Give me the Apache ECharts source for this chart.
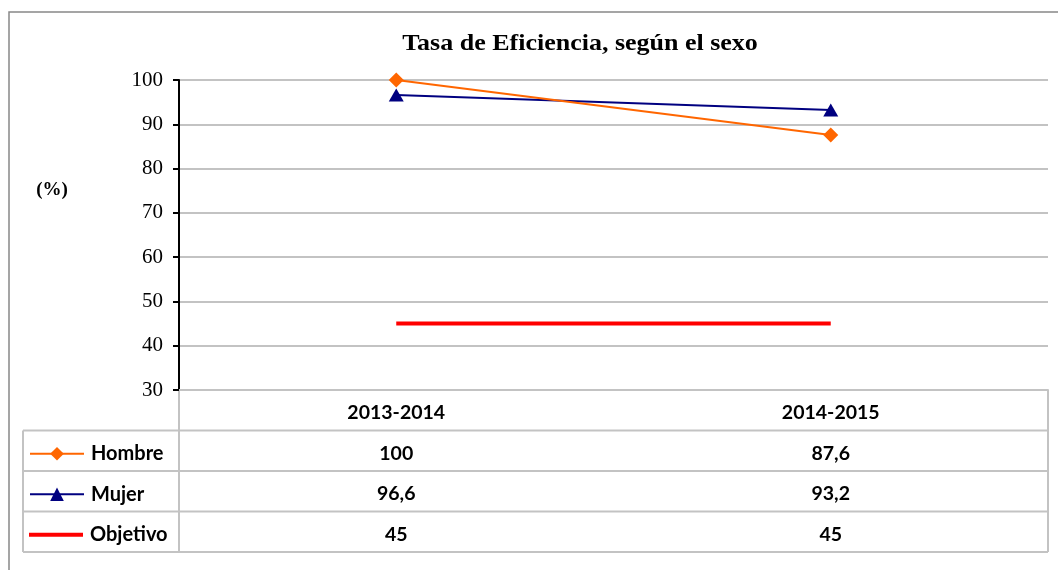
<!DOCTYPE html>
<html>
<head>
<meta charset="utf-8">
<script src="https://cdn.jsdelivr.net/npm/echarts@6/dist/echarts.min.js"></script>
<style>
  html, body { margin: 0; padding: 0; background: #ffffff; }
  #chart { width: 1058px; height: 570px; }
</style>
</head>
<body>
<div id="chart"></div>
<script>
// School years shown on the category axis
const periods = ['2013-2014', '2014-2015'];
// Efficiency rate (%) by sex, and the target
const hombre = [100, 87.6];
const mujer = [96.6, 93.2];
const objetivo = [45, 45];
// Value axis ticks
const yMin = 30, yMax = 100, yStep = 10;

const fmt = v => String(v).replace('.', ',');
const tableFont = 'Lato';
const rowH = 40.5;

const chart = echarts.init(document.getElementById('chart'), null, { renderer: 'canvas' });

// Data table under the axis: one column per period, values from the series arrays
function columnText(value, idx) {
  return '{h|' + value + '}\n{v|' + fmt(hombre[idx]) + '}\n{v|' + fmt(mujer[idx]) + '}\n{v|' + fmt(objetivo[idx]) + '}';
}

const gridLeft = 179, gridRight = 1048, gridTop = 80, gridBottom = 390;
const tableBottom = gridBottom + rowH * 4;
const gray = '#c3c3c3';

function hLine(y, x1, x2) {
  return { type: 'line', silent: true, shape: { x1: x1, y1: y, x2: x2, y2: y }, style: { stroke: gray, lineWidth: 2 } };
}
function vLine(x, y1, y2) {
  return { type: 'line', silent: true, shape: { x1: x, y1: y1, x2: x, y2: y2 }, style: { stroke: gray, lineWidth: 2 } };
}

const tableLines = [
  vLine(gridLeft, gridBottom, tableBottom),
  vLine(gridRight, gridBottom, tableBottom),
  vLine(23, gridBottom + rowH, tableBottom)
];
for (let r = 1; r <= 4; r++) tableLines.push(hLine(gridBottom + rowH * r, 23, gridRight));

// One legend per table row, placed in the first column
function rowLegend(name, row, extra) {
  return Object.assign({
    orient: 'vertical',
    left: 29,
    top: gridBottom + rowH * (row + 0.5) - 7,
    padding: 0,
    itemWidth: 54,
    itemHeight: 17,
    itemGap: 0,
    textStyle: { fontFamily: tableFont, fontWeight: 'bold', fontSize: 20, lineHeight: 20, color: '#000', padding: [0, 0, 0, 2] },
    data: [name]
  }, extra || {});
}

const option = {
  backgroundColor: '#ffffff',
  animation: false,
  grid: { left: gridLeft, right: 1058 - gridRight, top: gridTop, bottom: 570 - gridBottom, containLabel: false },
  legend: [
    rowLegend('Hombre', 1),
    rowLegend('Mujer', 2),
    rowLegend('Objetivo', 3, { itemHeight: 4, data: [{ name: 'Objetivo', icon: 'rect' }] })
  ],
  xAxis: {
    type: 'category',
    data: periods,
    boundaryGap: true,
    axisLine: { show: true, lineStyle: { color: gray, width: 2 } },
    axisTick: { show: false },
    splitLine: { show: false },
    axisLabel: {
      margin: 2.5,
      formatter: columnText,
      rich: {
        h: { fontFamily: tableFont, fontWeight: 'bold', fontSize: 19.5, color: '#000', lineHeight: rowH },
        v: { fontFamily: tableFont, fontWeight: 'bold', fontSize: 19.5, color: '#000', lineHeight: rowH }
      }
    }
  },
  yAxis: {
    type: 'value',
    min: yMin,
    max: yMax,
    interval: yStep,
    axisLine: { show: true, lineStyle: { color: '#000', width: 2 } },
    axisTick: { show: true, inside: false, length: 6, lineStyle: { color: '#000', width: 2 } },
    splitLine: { show: true, lineStyle: { color: gray, width: 2 } },
    axisLabel: { margin: 16, fontFamily: 'Liberation Serif', fontSize: 21, color: '#000' }
  },
  series: [
    {
      name: 'Objetivo', type: 'line', data: objetivo, symbol: 'none',
      lineStyle: { color: '#ff0000', width: 4 }, itemStyle: { color: '#ff0000' }, z: 2
    },
    {
      name: 'Mujer', type: 'line', data: mujer, symbol: 'triangle', symbolSize: [15, 13],
      lineStyle: { color: '#000080', width: 2 }, itemStyle: { color: '#000080' }, z: 3
    },
    {
      name: 'Hombre', type: 'line', data: hombre, symbol: 'diamond', symbolSize: 15,
      lineStyle: { color: '#ff6600', width: 2 }, itemStyle: { color: '#ff6600' }, z: 4
    }
  ],
  graphic: [
    // outer frame of the chart area
    { type: 'rect', silent: true, shape: { x: 9, y: 12, width: 1200, height: 700 },
      style: { fill: null, stroke: '#888888', lineWidth: 1.5 } },
    { type: 'text', silent: true, x: 580, y: 44, scaleX: 1.13,
      style: { text: 'Tasa de Eficiencia, según el sexo', fontFamily: 'Liberation Serif', fontWeight: 'bold',
               fontSize: 23, fill: '#000', align: 'center', verticalAlign: 'middle' } },
    { type: 'text', silent: true, x: 52, y: 190,
      style: { text: '(%)', fontFamily: 'Liberation Serif', fontWeight: 'bold',
               fontSize: 19, fill: '#000', align: 'center', verticalAlign: 'middle' } }
  ].concat(tableLines)
};

chart.setOption(option);
</script>
</body>
</html>
